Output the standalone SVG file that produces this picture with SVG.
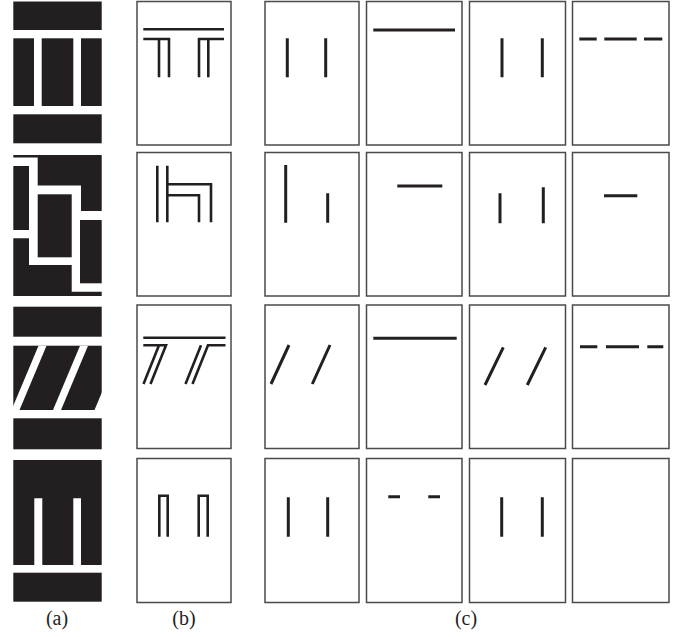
<svg xmlns="http://www.w3.org/2000/svg" width="688" height="637" viewBox="0 0 688 637">
<style>
.blk{fill:#231f20}
.gap{fill:#ffffff}
.box{fill:#ffffff;stroke:#4a4a4a;stroke-width:1.5}
.ln{fill:none;stroke:#231f20;stroke-width:2.6;stroke-linecap:butt;stroke-linejoin:miter}
.lc{fill:none;stroke:#231f20;stroke-width:3;stroke-linecap:butt}
.lbl{font-family:"Liberation Serif","Times New Roman",serif;font-size:20px;fill:#231f20;text-anchor:middle}
</style>
<rect x="0" y="0" width="688" height="637" fill="#ffffff"/>

<!-- column (a) -->
<g id="a1">
<rect class="blk" x="13.3" y="1.5" width="88.4" height="28.5"/>
<rect class="blk" x="13.3" y="38.3" width="20.7" height="67.7"/>
<rect class="blk" x="41.7" y="38.3" width="31.6" height="67.7"/>
<rect class="blk" x="81" y="38.3" width="20.7" height="67.7"/>
<rect class="blk" x="13.3" y="114.3" width="88.4" height="29"/>
</g>
<g id="a2">
<polygon class="blk" points="13.3,155 101.7,155 101.7,211 81,211 81,185.5 37.7,185.5 37.7,157.5 13.3,157.5"/>
<rect class="blk" x="13.3" y="166" width="15.7" height="64"/>
<rect class="blk" x="37.7" y="194.3" width="34" height="63"/>
<rect class="blk" x="80" y="220" width="21.7" height="63.3"/>
<polygon class="blk" points="13.3,238.3 29,238.3 29,265 71.7,265 71.7,291.7 101.7,291.7 101.7,296 13.3,296"/>
</g>
<g id="a3">
<rect class="blk" x="13.3" y="306.7" width="88.4" height="30"/>
<rect class="blk" x="13.3" y="345.7" width="88.4" height="64.3"/>
<polygon class="gap" points="38.5,345.7 46.5,345.7 19.5,410 11.5,410"/>
<polygon class="gap" points="80,345.7 88,345.7 61,410 53,410"/>
<polygon class="gap" points="121.5,345.7 129.5,345.7 102.5,410 94.5,410"/>
<rect class="blk" x="13.3" y="418.3" width="88.4" height="31"/>
</g>
<g id="a4">
<path class="blk" d="M13.3,460 H101.7 V565 H81 V498.3 H73.3 V565 H42.3 V498.3 H34.3 V565 H13.3 Z"/>
<rect class="blk" x="13.3" y="572.7" width="88.4" height="29"/>
</g>

<!-- column (b) -->
<g id="b1">
<rect class="box" x="137" y="1.5" width="94" height="143.5"/>
<path class="ln" d="M143.3,29.3 H224 M143.3,39 H169 V77.3 M159,39 V77.3 M199,77.3 V39 H224 M208.3,39 V77.3"/>
</g>
<g id="b2">
<rect class="box" x="137" y="152.5" width="94" height="143.5"/>
<path class="ln" d="M157.3,165.7 V222.3 M167.3,165.7 V222.3 M167.3,184.3 H211 V222.3 M167.3,195.3 H199 V222.3"/>
</g>
<g id="b3">
<rect class="box" x="137" y="305" width="94" height="143.5"/>
<path class="ln" d="M143.3,337.7 H225.5 M143.3,345.3 H166 L150.5,384 M159,345.3 L143.5,384 M192.5,384 L208,345.3 H225.5 M201,345.3 L185.5,384"/>
</g>
<g id="b4">
<rect class="box" x="137" y="458.5" width="94" height="144"/>
<path class="ln" d="M159.3,536.7 V495.7 H167.7 V536.7 M198.7,536.7 V495.7 H207.7 V536.7"/>
</g>

<!-- column (c), row 1 -->
<g id="c11">
<rect class="box" x="265" y="1.5" width="94" height="143.5"/>
<path class="lc" d="M287.3,38.3 V77.3 M325.7,38.3 V77.3"/>
</g>
<g id="c12">
<rect class="box" x="366.5" y="1.5" width="95.5" height="143.5"/>
<path class="lc" d="M373.3,30 H455"/>
</g>
<g id="c13">
<rect class="box" x="469.5" y="1.5" width="96" height="143.5"/>
<path class="lc" d="M502,38.3 V77.3 M542.3,38.3 V77.3"/>
</g>
<g id="c14">
<rect class="box" x="572.5" y="1.5" width="96.5" height="143.5"/>
<path class="lc" d="M579.3,39 H596.7 M604.3,39 H636.7 M644,39 H662.3"/>
</g>

<!-- column (c), row 2 -->
<g id="c21">
<rect class="box" x="265" y="152.5" width="94" height="143.5"/>
<path class="lc" d="M285.7,165 V222.7 M327.7,193.3 V222.7"/>
</g>
<g id="c22">
<rect class="box" x="366.5" y="152.5" width="95.5" height="143.5"/>
<path class="lc" d="M397.3,186 H442.3"/>
</g>
<g id="c23">
<rect class="box" x="469.5" y="152.5" width="96" height="143.5"/>
<path class="lc" d="M500,193.3 V223.3 M543.3,187.3 V223.3"/>
</g>
<g id="c24">
<rect class="box" x="572.5" y="152.5" width="96.5" height="143.5"/>
<path class="lc" d="M604,195.7 H637.3"/>
</g>

<!-- column (c), row 3 -->
<g id="c31">
<rect class="box" x="265" y="305" width="94" height="143.5"/>
<path class="lc" d="M289,345 L271,384 M330,345 L312.3,384"/>
</g>
<g id="c32">
<rect class="box" x="366.5" y="305" width="95.5" height="143.5"/>
<path class="lc" d="M373.3,338.3 H456.7"/>
</g>
<g id="c33">
<rect class="box" x="469.5" y="305" width="96" height="143.5"/>
<path class="lc" d="M503.3,347.3 L485,385 M545.7,347.3 L527.3,385"/>
</g>
<g id="c34">
<rect class="box" x="572.5" y="305" width="96.5" height="143.5"/>
<path class="lc" d="M580,346.7 H597.3 M606,346.7 H639 M647.3,346.7 H663.3"/>
</g>

<!-- column (c), row 4 -->
<g id="c41">
<rect class="box" x="265" y="458.5" width="94" height="144"/>
<path class="lc" d="M288.3,497.3 V536.7 M327.7,497.3 V536.7"/>
</g>
<g id="c42">
<rect class="box" x="366.5" y="458.5" width="95.5" height="144"/>
<path class="lc" d="M388.3,496.7 H400 M428.3,496.7 H440"/>
</g>
<g id="c43">
<rect class="box" x="469.5" y="458.5" width="96" height="144"/>
<path class="lc" d="M501.7,497.3 V536.7 M542.3,497.3 V536.7"/>
</g>
<g id="c44">
<rect class="box" x="572.5" y="458.5" width="96.5" height="144"/>
</g>

<g id="labels">
<text class="lbl" x="57" y="625">(a)</text>
<text class="lbl" x="184" y="625">(b)</text>
<text class="lbl" x="466" y="625">(c)</text>
</g>
</svg>
